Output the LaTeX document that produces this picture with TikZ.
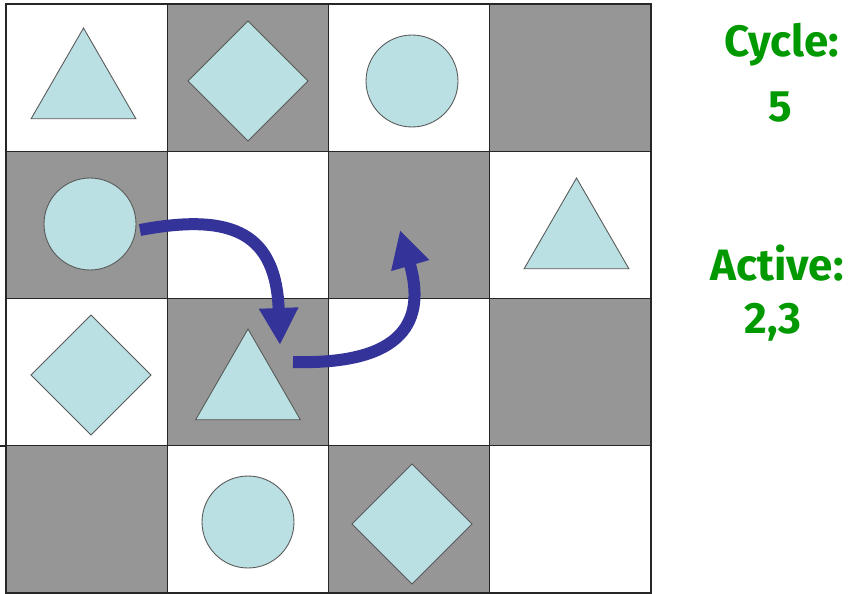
\documentclass[tikz,border=0pt]{standalone}
\usepackage{fontspec}
\newfontfamily\boardfont{Fira Sans}
\usepackage{tikz}
\usetikzlibrary{positioning,arrows.meta,shapes.geometric}
\definecolor{CellGray}{RGB}{150,150,150}
\definecolor{PieceBlue}{RGB}{186,224,227}
\definecolor{MoveBlue}{RGB}{51,51,153}
\definecolor{LabelGreen}{RGB}{0,153,0}

\begin{document}
\begin{tikzpicture}[x=0.02cm,y=-0.02cm,
    cell/.style={draw=black!85,line width=0.6pt},
    piece/.style={draw=black!65,fill=PieceBlue,line width=0.5pt,inner sep=0pt,outer sep=0pt},
    tri/.style={piece,regular polygon,regular polygon sides=3,minimum size=2.42cm},
    dia/.style={piece,diamond,minimum width=2.4cm,minimum height=2.4cm},
    disc/.style={piece,circle,minimum size=1.84cm},
    move/.style={MoveBlue,line width=0.24cm,-{Triangle[length=0.74cm,width=0.74cm]}},
    info/.style={LabelGreen,font=\boardfont\bfseries\fontsize{25}{30}\selectfont,anchor=base}]
	\useasboundingbox (0,0) rectangle (851,594);
	% board
	\foreach \r in {0,...,3}
		\foreach \c in {0,...,3}
			\draw[cell,fill=white] ({6+161.25*\c},{4+147.25*\r}) rectangle ++(161.25,147.25);
	\foreach \c/\r in {1/0,3/0,0/1,2/1,1/2,3/2,0/3,2/3}
		\draw[cell,fill=CellGray] ({6+161.25*\c},{4+147.25*\r}) rectangle ++(161.25,147.25);
	\draw[cell] (0,446)--(6,446);
	% pieces
	\node[tri] (triA) at (83.5,88.5) {};
	\node[dia] (diaA) at (248,81) {};
	\node[disc] (discA) at (412,81) {};
	\node[disc] (discB) at (90,224) {};
	\node[tri] (triB) at (576.5,238.5) {};
	\node[dia] (diaB) at (91,375) {};
	\node[tri] (triC) at (248,389.5) {};
	\node[disc] (discC) at (248,522) {};
	\node[dia] (diaC) at (412,524) {};
	% moves
	\coordinate (hopAstart) at (140,230);
	\coordinate (hopAend) at (280,345);
	\coordinate (hopBstart) at (293,362);
	\coordinate (hopBend) at (400,230);
	\draw[move] (hopAstart) .. controls (235,212) and (276,235) .. (hopAend);
	\draw[move] (hopBstart) .. controls (405,365) and (426,320) .. (hopBend);
	% status
	\node[info] (cyclelabel) at (782,57) {Cycle:};
	\node[info] (cyclevalue) at (780,122) {5};
	\node[info] (activelabel) at (777,280) {Active:};
	\node[info] (activevalue) at (773,333) {2,3};
\end{tikzpicture}
\end{document}
